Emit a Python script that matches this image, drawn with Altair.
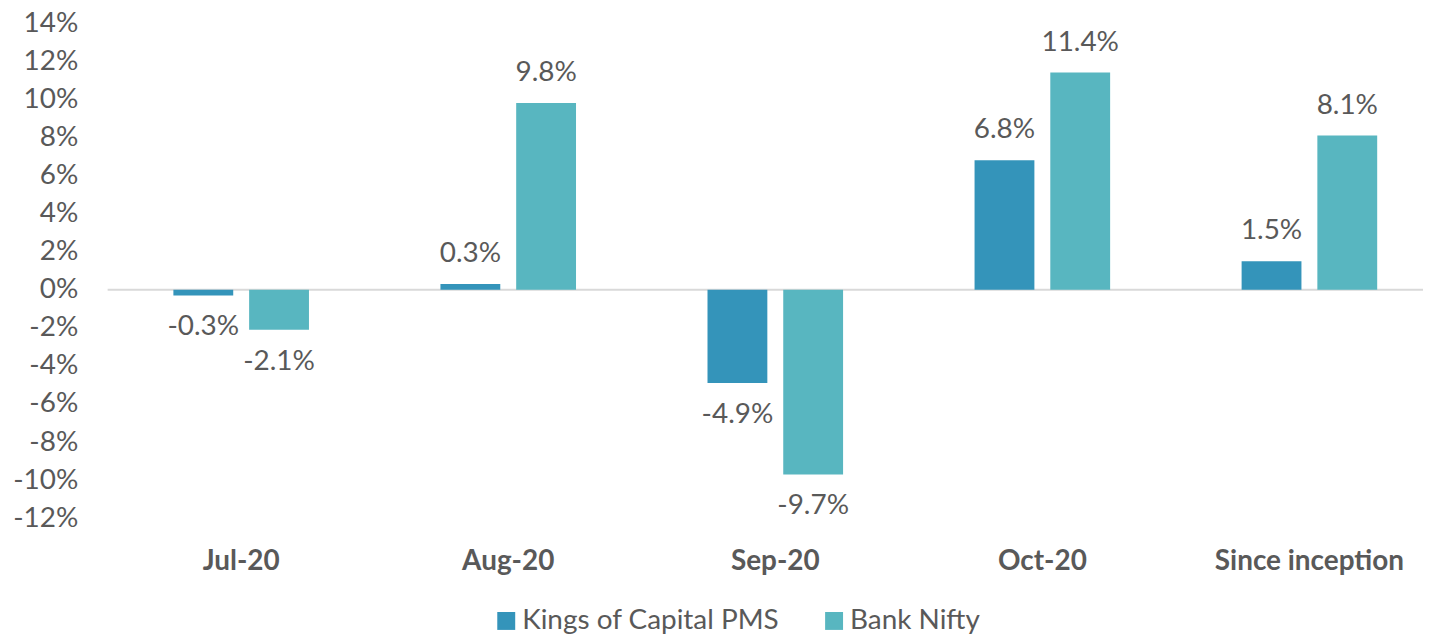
import altair as alt
import pandas as pd

categories = ["Jul-20", "Aug-20", "Sep-20", "Oct-20", "Since inception"]
series = ["Kings of Capital PMS", "Bank Nifty"]
kings = [-0.3, 0.3, -4.9, 6.8, 1.5]
bank = [-2.1, 9.8, -9.7, 11.4, 8.1]
y_ticks = list(range(-12, 15, 2))
colors = ["#3494BA", "#58B6C0"]

rows = []
for c, k, b in zip(categories, kings, bank):
    rows.append({"cat": c, "series": series[0], "value": k})
    rows.append({"cat": c, "series": series[1], "value": b})
df = pd.DataFrame(rows)
df["label"] = df["value"].map(lambda v: f"{v:.1f}%")

FONT = "Lato"
TXT = "#595959"
FS = 28

x = alt.X("cat:N", sort=categories, title=None,
          scale=alt.Scale(paddingInner=0, paddingOuter=0, range=[0, 1340]),
          axis=alt.Axis(orient="bottom", labelFont=FONT, labelFontSize=FS, labelFontWeight="bold",
                        labelColor=TXT, domain=False, ticks=False, labelPadding=29,
                        labelAngle=0, labelLimit=400))
xo = alt.XOffset("series:N", sort=series,
                 scale=alt.Scale(paddingInner=0.21, paddingOuter=0.868))
yscale = alt.Scale(domain=[-12, 14], nice=False, zero=False)
y = alt.Y("value:Q", title=None, scale=yscale,
          axis=alt.Axis(values=y_ticks, labelExpr="datum.value + '%'", grid=False,
                        domain=False, ticks=False, labelFont=FONT, labelFontSize=FS,
                        labelColor=TXT, labelPadding=30))

base = alt.Chart(df)

bars = base.mark_bar().encode(
    x=x, xOffset=xo, y=y, y2=alt.datum(0),
    color=alt.Color("series:N", sort=series,
                    scale=alt.Scale(domain=series, range=colors),
                    legend=alt.Legend(title=None, orient="none", direction="horizontal",
                                      legendX=386, legendY=586, labelFont=FONT,
                                      labelFontSize=FS, labelColor=TXT, symbolType="square",
                                      symbolSize=324, symbolStrokeWidth=0, columnPadding=40,
                                      labelOffset=2, labelLimit=500, padding=0)),
)

zero = alt.Chart(pd.DataFrame({"value": [0]})).mark_rule(color="#D9D9D9", strokeWidth=2).encode(
    y=y
)

lab_pos = base.transform_filter("datum.value >= 0").mark_text(
    font=FONT, fontSize=FS, color=TXT, baseline="middle", dy=-30
).encode(x=x, xOffset=xo, y=y, text="label:N")

lab_neg = base.transform_filter("datum.value < 0").mark_text(
    font=FONT, fontSize=FS, color=TXT, baseline="middle", dy=32
).encode(x=x, xOffset=xo, y=y, text="label:N")

chart = alt.layer(zero, bars, lab_pos, lab_neg).properties(
    width=1320, height=497,
    background="white",
    autosize=alt.AutoSizeParams(type="none"),
    padding={"left": 100, "top": 14, "right": 0, "bottom": 116},
).configure_view(stroke=None)

chart.save("out.html", embed_options={"renderer": "svg", "actions": False})
